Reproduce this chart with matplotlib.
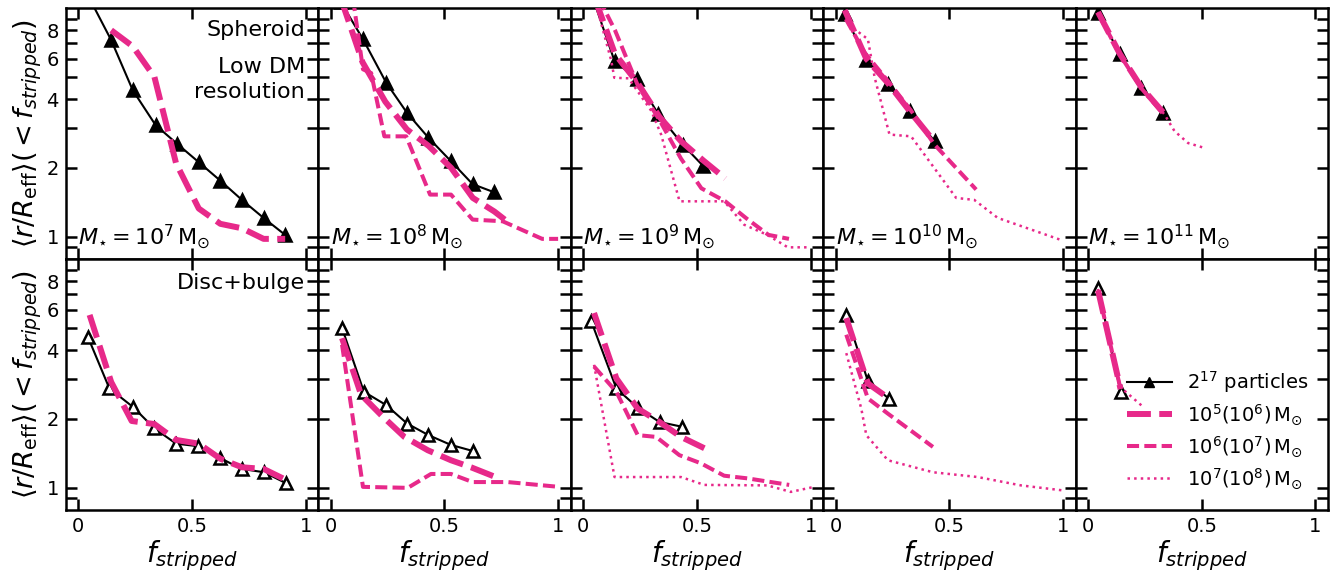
import numpy as np
import matplotlib
matplotlib.use("Agg")
import matplotlib.pyplot as plt
from matplotlib.lines import Line2D

PINK = "#e7298a"

masses = [7, 8, 9, 10, 11]
ytick_vals = [0.9, 1, 2, 3, 4, 5, 6, 7, 8, 9]
ytick_labels = ["", "1", "2", "", "4", "", "6", "", "8", ""]
xtick_vals = [0, 0.5, 1]
xtick_labels = ["0", "0.5", "1"]

# spheroid (top row): one list per stellar mass
sph_ref_x = [
    [0.05, 0.145, 0.24, 0.34, 0.435, 0.53, 0.625, 0.72, 0.815, 0.91],
    [0.045, 0.142, 0.244, 0.336, 0.43, 0.529, 0.624, 0.716],
    [0.045, 0.138, 0.238, 0.331, 0.438, 0.526],
    [0.04, 0.135, 0.23, 0.325, 0.435],
    [0.044, 0.14, 0.235, 0.33],
]
sph_ref_y = [
    [11.0, 7.24, 4.37, 3.08, 2.55, 2.12, 1.76, 1.45, 1.21, 1.02],
    [10.6, 7.31, 4.72, 3.48, 2.71, 2.14, 1.70, 1.57],
    [10.9, 5.87, 4.88, 3.43, 2.53, 2.05],
    [9.4, 5.92, 4.64, 3.55, 2.62],
    [9.56, 6.28, 4.48, 3.48],
]
sph_m5_x = [
    [0.145, 0.24, 0.335, 0.43, 0.53, 0.625, 0.72, 0.815, 0.91],
    [0.045, 0.14, 0.24, 0.335, 0.43, 0.53, 0.625, 0.72, 0.775],
    [0.045, 0.14, 0.24, 0.335, 0.43, 0.53, 0.625],
    [0.04, 0.135, 0.23, 0.33, 0.435],
    [0.044, 0.14, 0.235, 0.33],
]
sph_m5_y = [
    [8.0, 6.8, 5.0, 2.1, 1.33, 1.14, 1.09, 0.98, 0.98],
    [11.0, 5.8, 3.9, 2.95, 2.5, 2.0, 1.48, 1.29, 1.17],
    [11.5, 6.3, 4.7, 3.35, 2.62, 2.15, 1.8],
    [9.8, 6.0, 4.7, 3.5, 2.6],
    [9.6, 6.3, 4.5, 3.5],
]
sph_m6_x = [
    [],
    [0.095, 0.142, 0.178, 0.236, 0.332, 0.437, 0.529, 0.624, 0.756, 0.93, 1.0],
    [0.05, 0.14, 0.24, 0.335, 0.43, 0.52, 0.625, 0.72, 0.815, 0.905],
    [0.045, 0.128, 0.23, 0.333, 0.435, 0.618],
    [0.044, 0.14, 0.235, 0.33],
]
sph_m6_y = [
    [],
    [11.6, 5.4, 5.2, 2.75, 2.75, 1.53, 1.53, 1.19, 1.17, 0.98, 0.98],
    [12.0, 8.0, 4.6, 3.25, 2.2, 1.63, 1.43, 1.2, 1.02, 0.98],
    [8.95, 6.38, 4.8, 3.55, 2.53, 1.61],
    [9.5, 6.25, 4.45, 3.45],
]
sph_m7_x = [
    [],
    [],
    [0.05, 0.124, 0.137, 0.2, 0.3, 0.343, 0.424, 0.62, 0.708, 0.81, 0.9, 1.0],
    [0.055, 0.142, 0.172, 0.237, 0.332, 0.53, 0.61, 0.713, 0.844, 0.99],
    [0.044, 0.14, 0.235, 0.336, 0.38, 0.44, 0.51],
]
sph_m7_y = [
    [],
    [],
    [11.0, 5.87, 4.96, 4.93, 3.55, 2.8, 1.43, 1.43, 1.13, 1.02, 0.9, 0.9],
    [8.5, 7.31, 4.96, 2.8, 2.75, 1.48, 1.45, 1.21, 1.09, 0.97],
    [9.6, 6.3, 4.5, 3.43, 2.9, 2.57, 2.45],
]

# disc+bulge (bottom row)
disc_ref_x = [
    [0.042, 0.137, 0.24, 0.335, 0.43, 0.528, 0.624, 0.718, 0.817, 0.912],
    [0.05, 0.146, 0.244, 0.336, 0.43, 0.529, 0.624],
    [0.036, 0.146, 0.24, 0.336, 0.434],
    [0.047, 0.142, 0.237],
    [0.044, 0.143],
]
disc_ref_y = [
    [4.58, 2.72, 2.26, 1.82, 1.56, 1.52, 1.35, 1.21, 1.17, 1.05],
    [4.99, 2.63, 2.3, 1.91, 1.70, 1.54, 1.45],
    [5.34, 2.72, 2.24, 1.94, 1.85],
    [5.71, 2.93, 2.44],
    [7.48, 2.63],
]
disc_m5_x = [
    [0.05, 0.145, 0.235, 0.335, 0.43, 0.53, 0.625, 0.72, 0.815, 0.9],
    [0.05, 0.134, 0.222, 0.324, 0.427, 0.529, 0.617, 0.72],
    [0.048, 0.146, 0.24, 0.336, 0.43, 0.533],
    [0.047, 0.142, 0.237],
    [0.044, 0.143],
]
disc_m5_y = [
    [5.7, 2.9, 1.96, 1.9, 1.62, 1.56, 1.34, 1.23, 1.21, 1.1],
    [4.51, 2.55, 2.08, 1.67, 1.46, 1.32, 1.23, 1.12],
    [5.81, 3.01, 2.22, 1.94, 1.67, 1.49],
    [5.52, 2.86, 2.45],
    [7.3, 2.7],
]
disc_m6_x = [
    [],
    [0.05, 0.142, 0.339, 0.441, 0.529, 0.624, 0.778, 1.004],
    [0.048, 0.146, 0.24, 0.321, 0.423, 0.518, 0.62, 0.723, 0.906],
    [0.047, 0.142, 0.23, 0.428],
    [0.044, 0.143],
]
disc_m6_y = [
    [],
    [4.22, 1.01, 1.0, 1.15, 1.15, 1.06, 1.06, 1.01],
    [3.39, 2.63, 1.70, 1.67, 1.39, 1.28, 1.13, 1.10, 1.03],
    [4.67, 2.46, 2.11, 1.51],
    [7.3, 2.7],
]
disc_m7_x = [
    [],
    [],
    [0.048, 0.138, 0.43, 0.533, 0.81, 0.913, 1.016],
    [0.047, 0.113, 0.135, 0.23, 0.428, 0.625, 0.815, 0.998],
    [0.044, 0.143, 0.242],
]
disc_m7_y = [
    [],
    [],
    [3.45, 1.115, 1.115, 1.03, 1.025, 0.96, 1.01],
    [3.88, 2.22, 1.70, 1.32, 1.17, 1.115, 1.025, 0.975],
    [7.4, 2.75, 2.26],
]

rows = [
    (sph_ref_x, sph_ref_y, sph_m5_x, sph_m5_y, sph_m6_x, sph_m6_y, sph_m7_x, sph_m7_y),
    (disc_ref_x, disc_ref_y, disc_m5_x, disc_m5_y, disc_m6_x, disc_m6_y, disc_m7_x, disc_m7_y),
]

fig, axes = plt.subplots(2, 5, figsize=(13.41, 5.75), dpi=100, sharex=True, sharey=True)
fig.subplots_adjust(left=0.049, right=0.9903, top=0.986, bottom=0.113, wspace=0, hspace=0)

for r, (rx, ry, x5, y5, x6, y6, x7, y7) in enumerate(rows):
    for c in range(5):
        ax = axes[r, c]
        face = "k" if r == 0 else "white"
        ax.plot(rx[c], ry[c], "-", color="k", lw=1.5, marker="^", ms=8 if r == 0 else 9,
                mfc=face, mec="k", mew=1.8, zorder=2)
        ax.plot(x5[c], y5[c], color=PINK, lw=4.3, dashes=(4, 1.4), zorder=3)
        if x6[c]:
            ax.plot(x6[c], y6[c], color=PINK, lw=2.9, dashes=(3, 1.3), zorder=3)
        if x7[c]:
            ax.plot(x7[c], y7[c], color=PINK, lw=1.8, ls=":", zorder=3)

        ax.set_yscale("log")
        ax.set_ylim(0.8, 10)
        ax.set_xlim(-0.055, 1.055)
        ax.yaxis.set_minor_locator(matplotlib.ticker.NullLocator())
        ax.set_yticks(ytick_vals)
        ax.set_yticklabels(ytick_labels)
        ax.set_xticks(xtick_vals)
        ax.set_xticklabels(xtick_labels)
        ax.tick_params(which="both", direction="in", top=True, right=True,
                       length=8, width=1.8, labelsize=14, pad=5)
        for s in ax.spines.values():
            s.set_linewidth(1.8)
        if r == 0:
            ax.text(0.05, 0.09, r"$M_{\star}=10^{%d}\,\mathrm{M}_{\odot}$" % masses[c],
                    transform=ax.transAxes, ha="left", va="center", fontsize=16)
        else:
            ax.set_xlabel(r"$f_{stripped}$", fontsize=20, labelpad=2)
    axes[r, 0].set_ylabel(r"$\langle r/R_{\rm eff}\rangle(<f_{stripped})$", fontsize=19.5,
                          labelpad=2)

axes[0, 0].text(0.948, 0.912, "Spheroid", transform=axes[0, 0].transAxes,
                ha="right", va="center", fontsize=16)
axes[0, 0].text(0.948, 0.714, "Low DM\nresolution", transform=axes[0, 0].transAxes,
                ha="right", va="center", fontsize=16, linespacing=1.3)
axes[1, 0].text(0.948, 0.905, "Disc+bulge", transform=axes[1, 0].transAxes,
                ha="right", va="center", fontsize=16)

handles = [
    Line2D([], [], color="k", lw=1.5, marker="^", ms=7),
    Line2D([], [], color=PINK, lw=4.3, dashes=(4, 1.4)),
    Line2D([], [], color=PINK, lw=2.9, dashes=(3, 1.3)),
    Line2D([], [], color=PINK, lw=1.8, ls=":"),
]
labels = [r"$2^{17}$ particles", r"$10^5(10^6)\,\mathrm{M}_{\odot}$",
          r"$10^6(10^7)\,\mathrm{M}_{\odot}$", r"$10^7(10^8)\,\mathrm{M}_{\odot}$"]
axes[1, 4].legend(handles, labels, loc="lower right", frameon=False, fontsize=14,
                  handlelength=2.3, handletextpad=0.8, labelspacing=0.38,
                  borderaxespad=0.6)

fig.savefig("out.png", dpi=100)
